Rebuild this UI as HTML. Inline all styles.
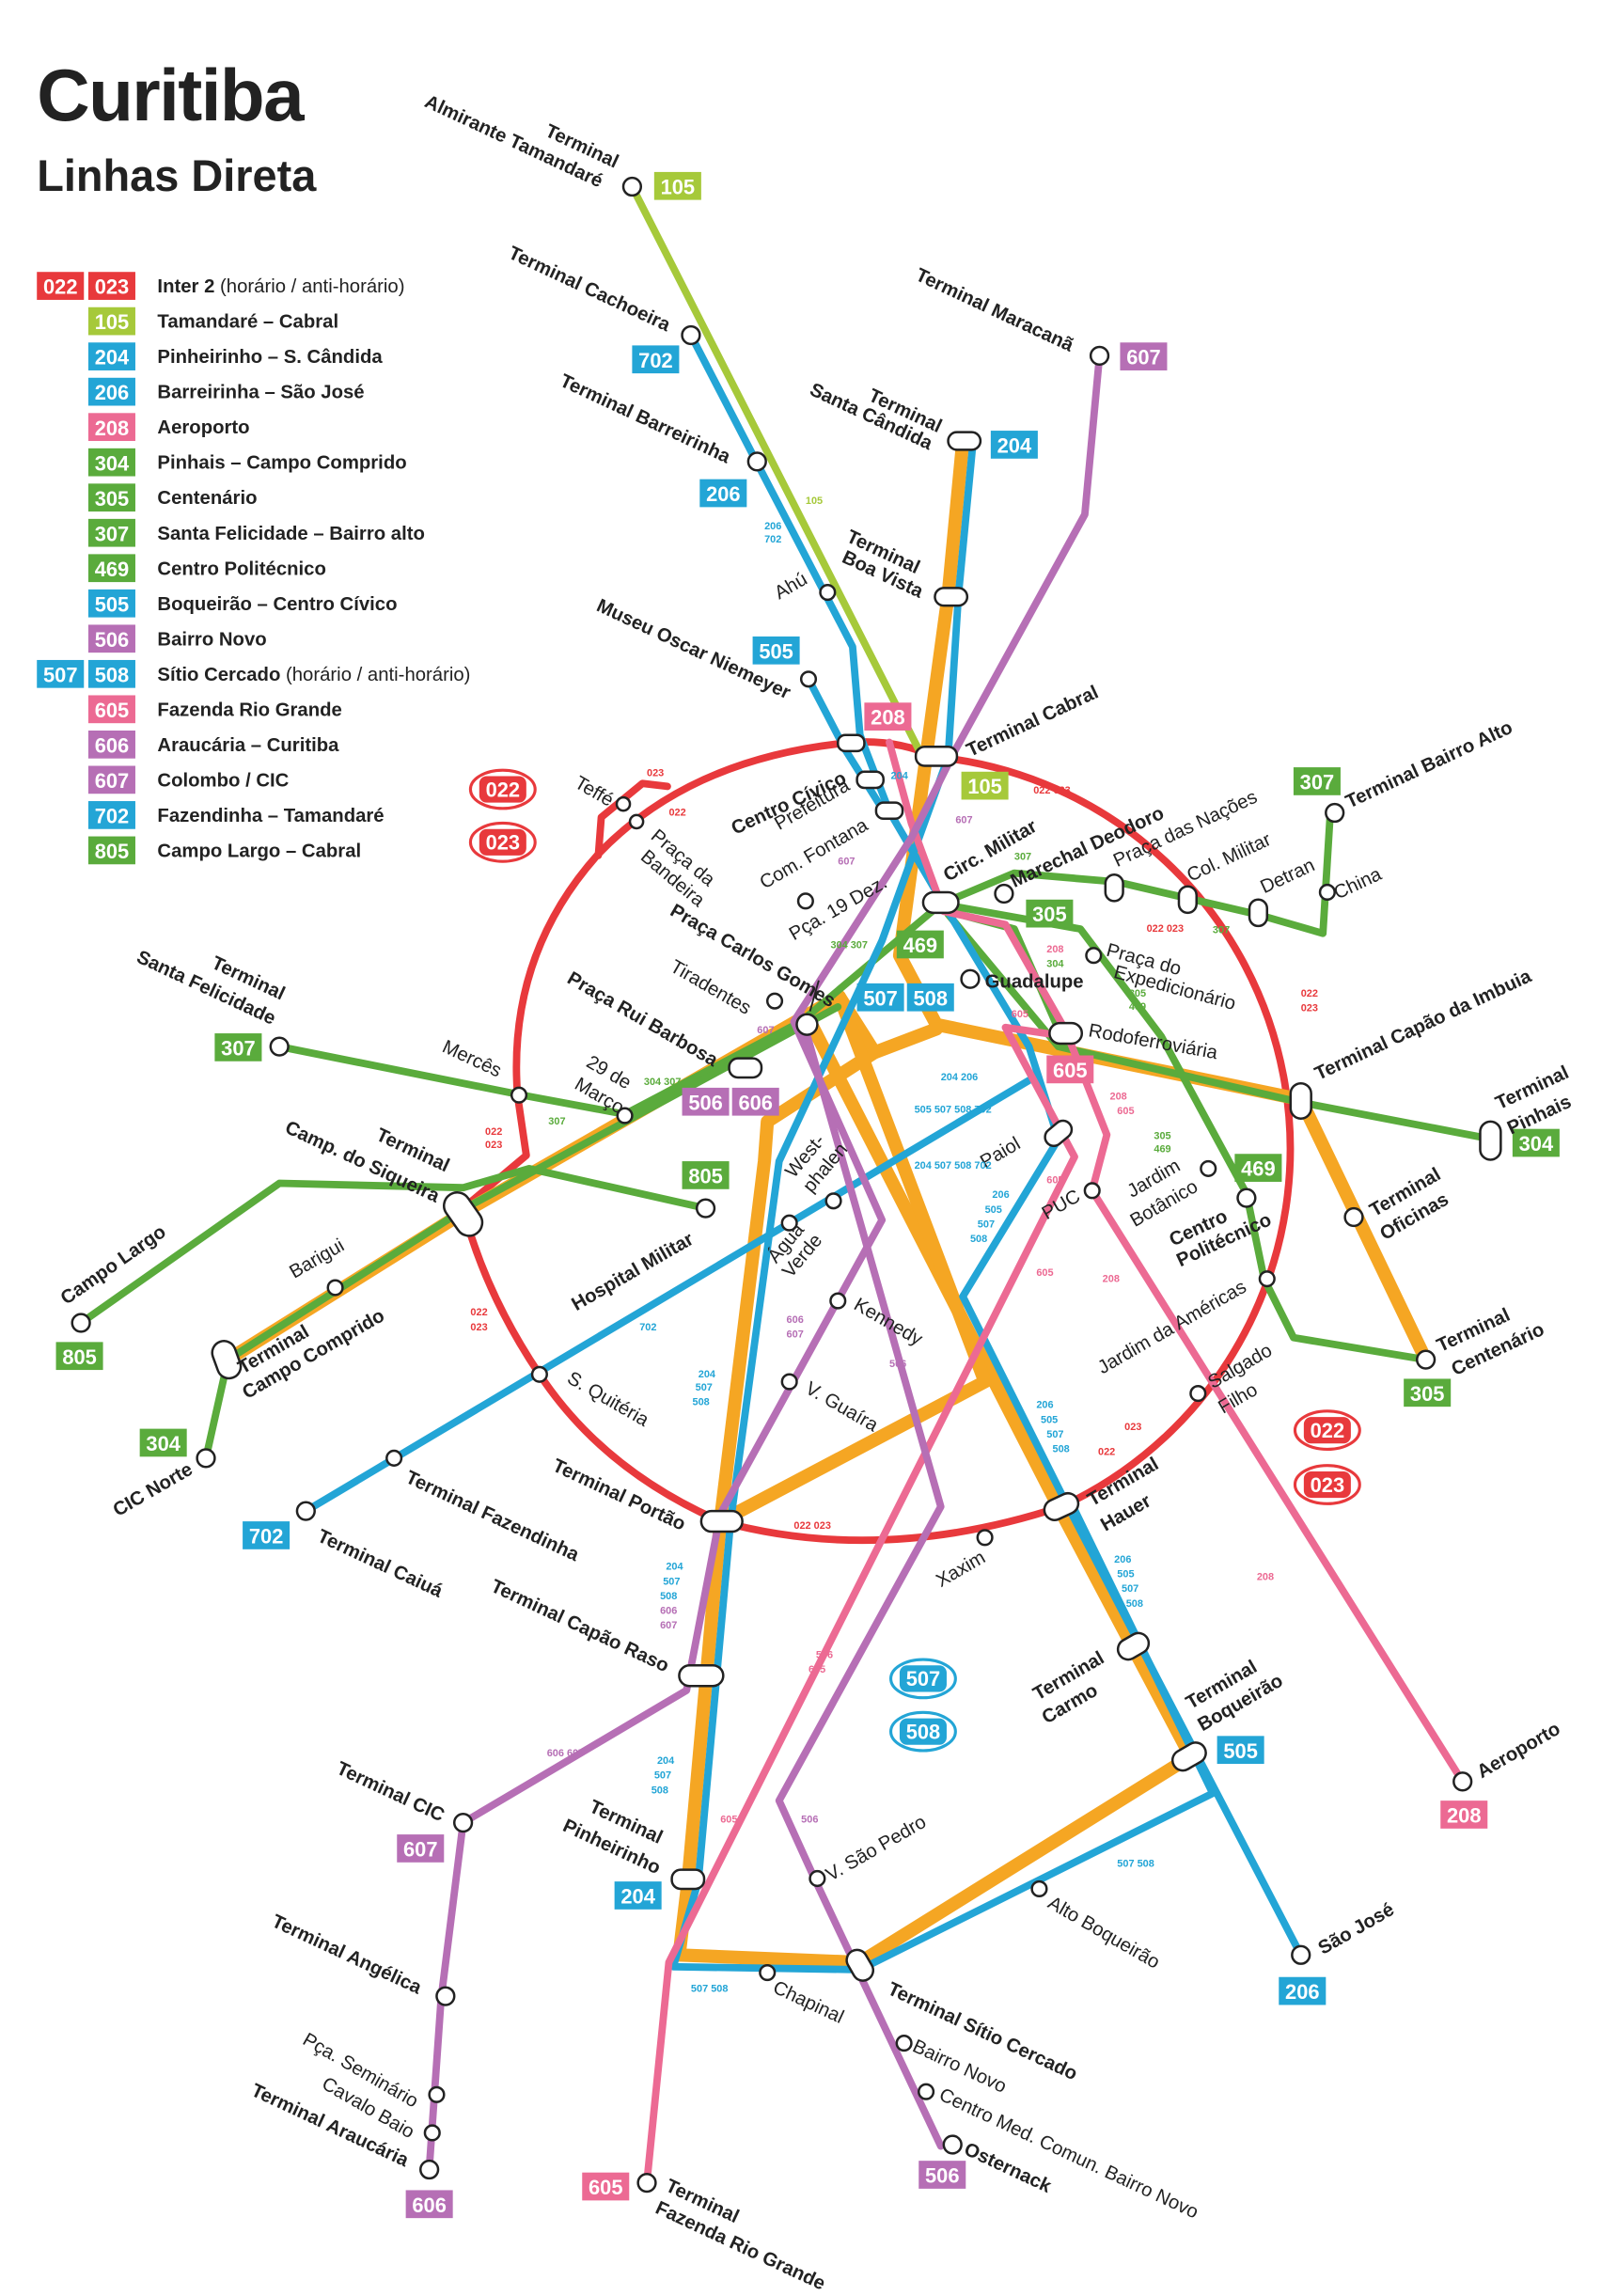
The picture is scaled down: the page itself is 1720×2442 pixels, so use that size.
<!DOCTYPE html>
<html><head><meta charset="utf-8">
<style>
html,body{margin:0;padding:0;background:#fff}
svg{display:block}
text{font-family:"Liberation Sans",sans-serif}
.b{font-weight:bold}
.st{fill:#fff;stroke:#222;stroke-width:1.6}
.ln{fill:none;stroke-linejoin:round;stroke-linecap:round}
.bt{fill:#fff;font-weight:bold;font-size:14px;text-anchor:middle}
.lg{font-size:13px;font-weight:bold;fill:#222}
.lb{font-size:13px;fill:#222}
.tb{font-size:13px;font-weight:bold;fill:#222}
.sm{font-size:7px;font-weight:bold}
</style></head><body>
<svg width="1720" height="2442" viewBox="0 0 1100 1562" xmlns="http://www.w3.org/2000/svg">
<rect width="1100" height="1562" fill="#fff"/>
<text x="25" y="82" font-size="50" class="b" fill="#222" letter-spacing="-1">Curitiba</text>
<text x="25" y="130" font-size="30" class="b" fill="#222">Linhas Direta</text>

<!-- legend -->
<g>
<rect x="25" y="185" width="32" height="19" fill="#e8393c"/><text x="41" y="200" class="bt">022</text>
<rect x="60" y="185" width="32" height="19" fill="#e8393c"/><text x="76" y="200" class="bt">023</text>
<text x="107" y="199" class="lg">Inter 2 <tspan font-weight="normal">(horário / anti-horário)</tspan></text>
<rect x="60" y="209" width="32" height="19" fill="#a6c93a"/><text x="76" y="224" class="bt">105</text><text x="107" y="223" class="lg">Tamandaré – Cabral</text>
<rect x="60" y="233" width="32" height="19" fill="#23a5d6"/><text x="76" y="248" class="bt">204</text><text x="107" y="247" class="lg">Pinheirinho – S. Cândida</text>
<rect x="60" y="257" width="32" height="19" fill="#23a5d6"/><text x="76" y="272" class="bt">206</text><text x="107" y="271" class="lg">Barreirinha – São José</text>
<rect x="60" y="281" width="32" height="19" fill="#ec6a93"/><text x="76" y="296" class="bt">208</text><text x="107" y="295" class="lg">Aeroporto</text>
<rect x="60" y="305" width="32" height="19" fill="#5aab3c"/><text x="76" y="320" class="bt">304</text><text x="107" y="319" class="lg">Pinhais – Campo Comprido</text>
<rect x="60" y="329" width="32" height="19" fill="#5aab3c"/><text x="76" y="344" class="bt">305</text><text x="107" y="343" class="lg">Centenário</text>
<rect x="60" y="353" width="32" height="19" fill="#5aab3c"/><text x="76" y="368" class="bt">307</text><text x="107" y="367" class="lg">Santa Felicidade – Bairro alto</text>
<rect x="60" y="377" width="32" height="19" fill="#5aab3c"/><text x="76" y="392" class="bt">469</text><text x="107" y="391" class="lg">Centro Politécnico</text>
<rect x="60" y="401" width="32" height="19" fill="#23a5d6"/><text x="76" y="416" class="bt">505</text><text x="107" y="415" class="lg">Boqueirão – Centro Cívico</text>
<rect x="60" y="425" width="32" height="19" fill="#b66fb5"/><text x="76" y="440" class="bt">506</text><text x="107" y="439" class="lg">Bairro Novo</text>
<rect x="25" y="449" width="32" height="19" fill="#23a5d6"/><text x="41" y="464" class="bt">507</text>
<rect x="60" y="449" width="32" height="19" fill="#23a5d6"/><text x="76" y="464" class="bt">508</text><text x="107" y="463" class="lg">Sítio Cercado <tspan font-weight="normal">(horário / anti-horário)</tspan></text>
<rect x="60" y="473" width="32" height="19" fill="#ec6a93"/><text x="76" y="488" class="bt">605</text><text x="107" y="487" class="lg">Fazenda Rio Grande</text>
<rect x="60" y="497" width="32" height="19" fill="#b66fb5"/><text x="76" y="512" class="bt">606</text><text x="107" y="511" class="lg">Araucária – Curitiba</text>
<rect x="60" y="521" width="32" height="19" fill="#b66fb5"/><text x="76" y="536" class="bt">607</text><text x="107" y="535" class="lg">Colombo / CIC</text>
<rect x="60" y="545" width="32" height="19" fill="#23a5d6"/><text x="76" y="560" class="bt">702</text><text x="107" y="559" class="lg">Fazendinha – Tamandaré</text>
<rect x="60" y="569" width="32" height="19" fill="#5aab3c"/><text x="76" y="584" class="bt">805</text><text x="107" y="583" class="lg">Campo Largo – Cabral</text>
</g>

<!-- red ring -->
<path class="ln" stroke="#e8393c" stroke-width="5" d="M637,515 A268,268 0 0 1 722,1025 Q600,1065 490,1035 Q410,1000 367,935 Q330,880 315,822 L358,786 L352,745 Q345,650 407,581 Q470,515 580,505 Q610,503 637,515 Z"/>
<path class="ln" d="M407,582 L409,556 L437,533 L454,535" stroke="#e8393c" stroke-width="5"/>

<!-- orange trunks -->
<g class="ln" stroke="#f5a623" stroke-width="9">
<path d="M655,300 L645,405 L630,515 L612,650 L637,697 L885,748 L970,925"/>
<path d="M155,925 L315,825 L571,678 L595,716 L637,700"/>
<path d="M595,716 L522,763 L520,790 L490,1035 L468,1280 L462,1330 L585,1335 L810,1195 L720,1025 L550,693"/>
<path d="M490,1035 L670,940 L571,678"/>
</g>

<!-- green -->
<g class="ln" stroke="#5aab3c" stroke-width="5">
<path d="M190,712 L355,745 L425,758 L545,695 L640,615 L690,594 L760,600 L855,622 L900,635 L905,553"/>
<path d="M140,992 L155,925 L320,820 L570,685"/>
<path d="M1015,775 L885,750 L720,712 L645,622"/>
<path d="M55,900 L190,805 L315,808 L360,795 L480,822"/>
<path d="M640,615 L735,632 L790,705 L848,812 L860,870 L880,910 L970,925"/>
<path d="M645,620 L690,632 L720,700"/>
</g>

<!-- lime -->
<path class="ln" d="M430,127 L625,510 L640,515" stroke="#a6c93a" stroke-width="5"/>

<!-- blue -->
<g class="ln" stroke="#23a5d6" stroke-width="5">
<path d="M470,228 L515,315 L580,440 L585,500 L605,552 L640,612 L700,712 L720,775 L655,882 L725,1022 L885,1330"/>
<path d="M700,735 L208,1028"/>
<path d="M662,300 L652,405 L645,515 L600,640 L530,790 L497,1035 L475,1280 L458,1338 L585,1340 L825,1220 L730,1025"/>
<path d="M550,462 L575,510 L600,550"/>
</g>

<!-- pink -->
<g class="ln" stroke="#ec6a93" stroke-width="5">
<path d="M605,505 L620,560 L642,620 L684,629 L701,659 L725,701 L753,772 L743,810 L995,1212"/>
<path d="M684,699 L725,705 M684,699 L731,787 L455,1335 L440,1485"/>
</g>

<!-- purple -->
<g class="ln" stroke="#b66fb5" stroke-width="5">
<path d="M748,242 L738,350 L650,510 L620,570 L540,695 L600,830 L490,1030 L467,1150 L315,1240 L300,1360 L292,1475"/>
<path d="M545,690 L640,1025 L530,1225 L555,1280 L640,1460"/>
</g>

<!-- stations -->
<g class="st">
<circle cx="430" cy="127" r="6"/><circle cx="470" cy="228" r="6"/><circle cx="515" cy="314" r="6"/>
<circle cx="748" cy="242" r="6"/><circle cx="563" cy="403" r="5"/><circle cx="550" cy="462" r="5"/>
<rect x="645" y="294" width="22" height="12" rx="6"/><rect x="636" y="400" width="22" height="12" rx="6"/>
<rect x="623" y="508" width="28" height="13" rx="6"/><rect x="570" y="500" width="18" height="11" rx="5"/>
<rect x="583" y="525" width="18" height="11" rx="5"/><rect x="596" y="546" width="18" height="11" rx="5"/>
<rect x="628" y="607" width="24" height="14" rx="7"/>
<circle cx="424" cy="547" r="4.5"/><circle cx="433" cy="559" r="4.5"/><circle cx="548" cy="613" r="5"/>
<circle cx="683" cy="608" r="6"/><rect x="752" y="595" width="12" height="18" rx="6"/><rect x="802" y="603" width="12" height="18" rx="6"/>
<rect x="850" y="612" width="12" height="18" rx="6"/><circle cx="903" cy="607" r="5"/><circle cx="908" cy="553" r="6"/>
<circle cx="744" cy="650" r="5"/><circle cx="660" cy="666" r="6"/><circle cx="527" cy="681" r="5"/>
<circle cx="549" cy="697" r="7"/><rect x="496" y="720" width="22" height="13" rx="6"/>
<rect x="714" y="696" width="22" height="14" rx="7"/><rect x="878" y="737" width="14" height="24" rx="7"/>
<rect x="1007" y="763" width="14" height="26" rx="7"/><circle cx="921" cy="828" r="6"/>
<circle cx="190" cy="712" r="6"/><circle cx="353" cy="745" r="5"/><circle cx="425" cy="759" r="5"/>
<rect x="306" y="810" width="18" height="32" rx="9" transform="rotate(-35 315 826)"/>
<circle cx="480" cy="822" r="6"/><circle cx="228" cy="876" r="5"/><circle cx="55" cy="900" r="6"/>
<rect x="146" y="912" width="16" height="26" rx="8" transform="rotate(-20 154 925)"/>
<circle cx="140" cy="992" r="6"/><circle cx="367" cy="935" r="5"/><circle cx="268" cy="992" r="5"/>
<circle cx="208" cy="1028" r="6"/><rect x="710" y="765" width="20" height="12" rx="6" transform="rotate(-40 720 771)"/>
<circle cx="567" cy="817" r="5"/><circle cx="537" cy="832" r="5"/><circle cx="743" cy="810" r="5"/>
<circle cx="822" cy="795" r="5"/><circle cx="848" cy="815" r="6"/><circle cx="862" cy="870" r="5"/>
<circle cx="570" cy="885" r="5"/><circle cx="537" cy="940" r="5"/><circle cx="815" cy="948" r="5"/>
<rect x="477" y="1028" width="28" height="14" rx="7"/><rect x="710" y="1018" width="24" height="14" rx="7" transform="rotate(-25 722 1025)"/>
<circle cx="670" cy="1046" r="5"/><circle cx="970" cy="925" r="6"/>
<rect x="462" y="1133" width="30" height="14" rx="7"/><rect x="760" y="1113" width="22" height="14" rx="7" transform="rotate(-30 771 1120)"/>
<rect x="797" y="1188" width="24" height="14" rx="7" transform="rotate(-30 809 1195)"/>
<circle cx="995" cy="1212" r="6"/><circle cx="315" cy="1240" r="6"/><circle cx="556" cy="1278" r="5"/>
<rect x="457" y="1272" width="22" height="13" rx="6"/><circle cx="707" cy="1285" r="5"/>
<circle cx="885" cy="1330" r="6"/><circle cx="522" cy="1342" r="5"/>
<rect x="578" y="1326" width="14" height="22" rx="7" transform="rotate(-30 585 1337)"/>
<circle cx="303" cy="1358" r="6"/><circle cx="297" cy="1425" r="5"/><circle cx="294" cy="1451" r="5"/>
<circle cx="292" cy="1476" r="6"/><circle cx="615" cy="1390" r="5"/><circle cx="630" cy="1423" r="5"/>
<circle cx="648" cy="1459" r="6"/><circle cx="440" cy="1485" r="6"/>
</g>
<path d="M557,667 L551,688" stroke="#222" stroke-width="1.2" fill="none"/>

<!-- badges -->
<g>
<rect x="445" y="117" width="32" height="19" fill="#a6c93a"/><text x="461" y="132" class="bt">105</text>
<rect x="430" y="235" width="32" height="19" fill="#23a5d6"/><text x="446" y="250" class="bt">702</text>
<rect x="762" y="233" width="32" height="19" fill="#b66fb5"/><text x="778" y="248" class="bt">607</text>
<rect x="674" y="293" width="32" height="19" fill="#23a5d6"/><text x="690" y="308" class="bt">204</text>
<rect x="476" y="326" width="32" height="19" fill="#23a5d6"/><text x="492" y="341" class="bt">206</text>
<rect x="512" y="433" width="32" height="19" fill="#23a5d6"/><text x="528" y="448" class="bt">505</text>
<rect x="588" y="478" width="32" height="19" fill="#ec6a93"/><text x="604" y="493" class="bt">208</text>
<rect x="654" y="525" width="32" height="19" fill="#a6c93a"/><text x="670" y="540" class="bt">105</text>
<rect x="880" y="522" width="32" height="19" fill="#5aab3c"/><text x="896" y="537" class="bt">307</text>
<rect x="698" y="612" width="32" height="19" fill="#5aab3c"/><text x="714" y="627" class="bt">305</text>
<rect x="610" y="633" width="32" height="19" fill="#5aab3c"/><text x="626" y="648" class="bt">469</text>
<rect x="583" y="669" width="32" height="19" fill="#23a5d6"/><text x="599" y="684" class="bt">507</text>
<rect x="617" y="669" width="32" height="19" fill="#23a5d6"/><text x="633" y="684" class="bt">508</text>
<rect x="712" y="718" width="32" height="19" fill="#ec6a93"/><text x="728" y="733" class="bt">605</text>
<rect x="464" y="740" width="32" height="19" fill="#b66fb5"/><text x="480" y="755" class="bt">506</text>
<rect x="498" y="740" width="32" height="19" fill="#b66fb5"/><text x="514" y="755" class="bt">606</text>
<rect x="146" y="703" width="32" height="19" fill="#5aab3c"/><text x="162" y="718" class="bt">307</text>
<rect x="1029" y="768" width="32" height="19" fill="#5aab3c"/><text x="1045" y="783" class="bt">304</text>
<rect x="464" y="790" width="32" height="19" fill="#5aab3c"/><text x="480" y="805" class="bt">805</text>
<rect x="840" y="785" width="32" height="19" fill="#5aab3c"/><text x="856" y="800" class="bt">469</text>
<rect x="38" y="913" width="32" height="19" fill="#5aab3c"/><text x="54" y="928" class="bt">805</text>
<rect x="95" y="972" width="32" height="19" fill="#5aab3c"/><text x="111" y="987" class="bt">304</text>
<rect x="955" y="938" width="32" height="19" fill="#5aab3c"/><text x="971" y="953" class="bt">305</text>
<rect x="165" y="1035" width="32" height="19" fill="#23a5d6"/><text x="181" y="1050" class="bt">702</text>
<rect x="828" y="1181" width="32" height="19" fill="#23a5d6"/><text x="844" y="1196" class="bt">505</text>
<rect x="980" y="1225" width="32" height="19" fill="#ec6a93"/><text x="996" y="1240" class="bt">208</text>
<rect x="270" y="1248" width="32" height="19" fill="#b66fb5"/><text x="286" y="1263" class="bt">607</text>
<rect x="418" y="1280" width="32" height="19" fill="#23a5d6"/><text x="434" y="1295" class="bt">204</text>
<rect x="870" y="1345" width="32" height="19" fill="#23a5d6"/><text x="886" y="1360" class="bt">206</text>
<rect x="625" y="1470" width="32" height="19" fill="#b66fb5"/><text x="641" y="1485" class="bt">506</text>
<rect x="396" y="1478" width="32" height="19" fill="#ec6a93"/><text x="412" y="1493" class="bt">605</text>
<rect x="276" y="1490" width="32" height="19" fill="#b66fb5"/><text x="292" y="1505" class="bt">606</text>
</g>

<!-- circular direction badges -->
<g fill="none" stroke-width="2">
<ellipse cx="342" cy="537" rx="22" ry="13" stroke="#e8393c"/><ellipse cx="342" cy="573" rx="22" ry="13" stroke="#e8393c"/>
<ellipse cx="903" cy="973" rx="22" ry="13" stroke="#e8393c"/><ellipse cx="903" cy="1010" rx="22" ry="13" stroke="#e8393c"/>
<ellipse cx="628" cy="1142" rx="22" ry="13" stroke="#23a5d6"/><ellipse cx="628" cy="1178" rx="22" ry="13" stroke="#23a5d6"/>
</g>
<g>
<rect x="326" y="528" width="32" height="18" rx="5" fill="#e8393c"/><text x="342" y="542" class="bt">022</text>
<rect x="326" y="564" width="32" height="18" rx="5" fill="#e8393c"/><text x="342" y="578" class="bt">023</text>
<rect x="887" y="964" width="32" height="18" rx="5" fill="#e8393c"/><text x="903" y="978" class="bt">022</text>
<rect x="887" y="1001" width="32" height="18" rx="5" fill="#e8393c"/><text x="903" y="1015" class="bt">023</text>
<rect x="612" y="1133" width="32" height="18" rx="5" fill="#23a5d6"/><text x="628" y="1147" class="bt">507</text>
<rect x="612" y="1169" width="32" height="18" rx="5" fill="#23a5d6"/><text x="628" y="1183" class="bt">508</text>
</g>

<!-- station labels -->
<g class="tb">
<text transform="translate(288,72) rotate(25)">Almirante Tamandaré</text>
<text transform="translate(370,92) rotate(25)">Terminal</text>
<text transform="translate(345,175) rotate(25)">Terminal Cachoeira</text>
<text transform="translate(622,190) rotate(25)">Terminal Maracanã</text>
<text transform="translate(550,268) rotate(25)">Santa Cândida</text>
<text transform="translate(590,272) rotate(25)">Terminal</text>
<text transform="translate(380,262) rotate(25)">Terminal Barreirinha</text>
<text transform="translate(575,368) rotate(25)">Terminal</text>
<text transform="translate(572,382) rotate(25)">Boa Vista</text>
<text transform="translate(405,415) rotate(25)">Museu Oscar Niemeyer</text>
<text transform="translate(660,515) rotate(-25)">Terminal Cabral</text>
<text transform="translate(500,568) rotate(-25)">Centro Cívico</text>
<text transform="translate(645,600) rotate(-30)">Circ. Militar</text>
<text transform="translate(690,604) rotate(-25)">Marechal Deodoro</text>
<text transform="translate(918,550) rotate(-25)">Terminal Bairro Alto</text>
<text transform="translate(455,622) rotate(30)">Praça Carlos Gomes</text>
<text transform="translate(670,672)">Guadalupe</text>
<text transform="translate(385,668) rotate(30)">Praça Rui Barbosa</text>
<text transform="translate(92,654) rotate(25)">Santa Felicidade</text>
<text transform="translate(143,658) rotate(25)">Terminal</text>
<text transform="translate(897,735) rotate(-25)">Terminal Capão da Imbuia</text>
<text transform="translate(1020,755) rotate(-25)">Terminal</text>
<text transform="translate(1028,772) rotate(-25)">Pinhais</text>
<text transform="translate(193,770) rotate(25)">Camp. do Siqueira</text>
<text transform="translate(255,775) rotate(25)">Terminal</text>
<text transform="translate(392,892) rotate(-30)">Hospital Militar</text>
<text transform="translate(45,888) rotate(-35)">Campo Largo</text>
<text transform="translate(935,828) rotate(-30)">Terminal</text>
<text transform="translate(942,844) rotate(-30)">Oficinas</text>
<text transform="translate(798,848) rotate(-25)">Centro</text>
<text transform="translate(803,862) rotate(-25)">Politécnico</text>
<text transform="translate(165,935) rotate(-30)">Terminal</text>
<text transform="translate(168,952) rotate(-30)">Campo Comprido</text>
<text transform="translate(80,1032) rotate(-30)">CIC Norte</text>
<text transform="translate(980,920) rotate(-25)">Terminal</text>
<text transform="translate(990,936) rotate(-25)">Centenário</text>
<text transform="translate(375,1000) rotate(25)">Terminal Portão</text>
<text transform="translate(743,1025) rotate(-30)">Terminal</text>
<text transform="translate(752,1042) rotate(-30)">Hauer</text>
<text transform="translate(275,1008) rotate(25)">Terminal Fazendinha</text>
<text transform="translate(215,1048) rotate(25)">Terminal Caiuá</text>
<text transform="translate(333,1082) rotate(25)">Terminal Capão Raso</text>
<text transform="translate(706,1157) rotate(-30)">Terminal</text>
<text transform="translate(712,1173) rotate(-30)">Carmo</text>
<text transform="translate(810,1163) rotate(-30)">Terminal</text>
<text transform="translate(818,1178) rotate(-30)">Boqueirão</text>
<text transform="translate(1008,1210) rotate(-30)">Aeroporto</text>
<text transform="translate(228,1206) rotate(25)">Terminal CIC</text>
<text transform="translate(400,1232) rotate(25)">Terminal</text>
<text transform="translate(382,1245) rotate(25)">Pinheirinho</text>
<text transform="translate(900,1330) rotate(-30)">São José</text>
<text transform="translate(184,1310) rotate(25)">Terminal Angélica</text>
<text transform="translate(603,1356) rotate(25)">Terminal Sítio Cercado</text>
<text transform="translate(170,1425) rotate(25)">Terminal Araucária</text>
<text transform="translate(655,1465) rotate(25)">Osternack</text>
<text transform="translate(452,1490) rotate(25)">Terminal</text>
<text transform="translate(445,1505) rotate(25)">Fazenda Rio Grande</text>
</g>
<g class="lb">
<text transform="translate(530,408) rotate(-30)">Ahú</text>
<text transform="translate(390,535) rotate(30)">Teffé</text>
<text transform="translate(442,570) rotate(40)">Praça da</text>
<text transform="translate(435,584) rotate(40)">Bandeira</text>
<text transform="translate(530,565) rotate(-30)">Prefeitura</text>
<text transform="translate(520,605) rotate(-30)">Com. Fontana</text>
<text transform="translate(540,640) rotate(-30)">Pça. 19 Dez.</text>
<text transform="translate(760,590) rotate(-25)">Praça das Nações</text>
<text transform="translate(810,600) rotate(-25)">Col. Militar</text>
<text transform="translate(860,608) rotate(-25)">Detran</text>
<text transform="translate(910,612) rotate(-25)">China</text>
<text transform="translate(752,650) rotate(15)">Praça do</text>
<text transform="translate(757,665) rotate(15)">Expedicionário</text>
<text transform="translate(455,660) rotate(30)">Tiradentes</text>
<text transform="translate(740,705) rotate(10)">Rodoferroviária</text>
<text transform="translate(300,715) rotate(25)">Mercês</text>
<text transform="translate(398,725) rotate(30)">29 de</text>
<text transform="translate(390,740) rotate(30)">Março</text>
<text transform="translate(540,802) rotate(-50)">West-</text>
<text transform="translate(552,812) rotate(-50)">phalen</text>
<text transform="translate(670,795) rotate(-30)">Paiol</text>
<text transform="translate(712,830) rotate(-30)">PUC</text>
<text transform="translate(770,815) rotate(-30)">Jardim</text>
<text transform="translate(772,835) rotate(-30)">Botânico</text>
<text transform="translate(200,870) rotate(-30)">Barigui</text>
<text transform="translate(528,860) rotate(-50)">Água</text>
<text transform="translate(538,870) rotate(-50)">Verde</text>
<text transform="translate(580,890) rotate(30)">Kennedy</text>
<text transform="translate(750,935) rotate(-30)">Jardim da Américas</text>
<text transform="translate(385,940) rotate(30)">S. Quitéria</text>
<text transform="translate(547,947) rotate(30)">V. Guaíra</text>
<text transform="translate(825,945) rotate(-30)">Salgado</text>
<text transform="translate(832,962) rotate(-30)">Filho</text>
<text transform="translate(640,1080) rotate(-30)">Xaxim</text>
<text transform="translate(565,1280) rotate(-30)">V. São Pedro</text>
<text transform="translate(712,1297) rotate(30)">Alto Boqueirão</text>
<text transform="translate(525,1355) rotate(25)">Chapinal</text>
<text transform="translate(620,1395) rotate(25)">Bairro Novo</text>
<text transform="translate(638,1428) rotate(25)">Centro Med. Comun. Bairro Novo</text>
<text transform="translate(205,1390) rotate(30)">Pça. Seminário</text>
<text transform="translate(218,1420) rotate(30)">Cavalo Baio</text>
</g>

<!-- small route numbers -->
<g class="sm">
<text x="520" y="360" fill="#23a5d6">206</text><text x="520" y="369" fill="#23a5d6">702</text>
<text x="548" y="343" fill="#a6c93a">105</text>
<text x="606" y="530" fill="#23a5d6">204</text>
<text x="570" y="588" fill="#b66fb5">607</text>
<text x="650" y="560" fill="#b66fb5">607</text>
<text x="703" y="540" fill="#e8393c">022 023</text>
<text x="440" y="528" fill="#e8393c">023</text><text x="455" y="555" fill="#e8393c">022</text>
<text x="565" y="645" fill="#5aab3c">304 307</text>
<text x="690" y="585" fill="#5aab3c">307</text>
<text x="780" y="634" fill="#e8393c">022 023</text><text x="825" y="635" fill="#5aab3c">307</text>
<text x="712" y="648" fill="#ec6a93">208</text><text x="712" y="658" fill="#5aab3c">304</text>
<text x="768" y="678" fill="#5aab3c">305</text><text x="768" y="687" fill="#5aab3c">469</text>
<text x="885" y="678" fill="#e8393c">022</text><text x="885" y="688" fill="#e8393c">023</text>
<text x="688" y="692" fill="#ec6a93">605</text>
<text x="515" y="703" fill="#b66fb5">607</text>
<text x="438" y="738" fill="#5aab3c">304 307</text>
<text x="373" y="765" fill="#5aab3c">307</text>
<text x="330" y="772" fill="#e8393c">022</text><text x="330" y="781" fill="#e8393c">023</text>
<text x="640" y="735" fill="#23a5d6">204 206</text><text x="622" y="757" fill="#23a5d6">505 507 508 702</text>
<text x="755" y="748" fill="#ec6a93">208</text><text x="760" y="758" fill="#ec6a93">605</text>
<text x="785" y="775" fill="#5aab3c">305</text><text x="785" y="784" fill="#5aab3c">469</text>
<text x="622" y="795" fill="#23a5d6">204 507 508 702</text>
<text x="675" y="815" fill="#23a5d6">206</text><text x="670" y="825" fill="#23a5d6">505</text><text x="665" y="835" fill="#23a5d6">507</text><text x="660" y="845" fill="#23a5d6">508</text>
<text x="712" y="805" fill="#ec6a93">605</text>
<text x="320" y="895" fill="#e8393c">022</text><text x="320" y="905" fill="#e8393c">023</text>
<text x="435" y="905" fill="#23a5d6">702</text>
<text x="705" y="868" fill="#ec6a93">605</text><text x="750" y="872" fill="#ec6a93">208</text>
<text x="535" y="900" fill="#b66fb5">606</text><text x="535" y="910" fill="#b66fb5">607</text>
<text x="605" y="930" fill="#b66fb5">506</text>
<text x="475" y="937" fill="#23a5d6">204</text><text x="473" y="946" fill="#23a5d6">507</text><text x="471" y="956" fill="#23a5d6">508</text>
<text x="705" y="958" fill="#23a5d6">206</text><text x="708" y="968" fill="#23a5d6">505</text><text x="712" y="978" fill="#23a5d6">507</text><text x="716" y="988" fill="#23a5d6">508</text>
<text x="747" y="990" fill="#e8393c">022</text><text x="765" y="973" fill="#e8393c">023</text>
<text x="540" y="1040" fill="#e8393c">022 023</text>
<text x="453" y="1068" fill="#23a5d6">204</text><text x="451" y="1078" fill="#23a5d6">507</text><text x="449" y="1088" fill="#23a5d6">508</text><text x="449" y="1098" fill="#b66fb5">606</text><text x="449" y="1108" fill="#b66fb5">607</text>
<text x="758" y="1063" fill="#23a5d6">206</text><text x="760" y="1073" fill="#23a5d6">505</text><text x="763" y="1083" fill="#23a5d6">507</text><text x="766" y="1093" fill="#23a5d6">508</text>
<text x="855" y="1075" fill="#ec6a93">208</text>
<text x="555" y="1128" fill="#ec6a93">506</text><text x="550" y="1138" fill="#ec6a93">605</text>
<text x="372" y="1195" fill="#b66fb5">606 607</text>
<text x="447" y="1200" fill="#23a5d6">204</text><text x="445" y="1210" fill="#23a5d6">507</text><text x="443" y="1220" fill="#23a5d6">508</text>
<text x="490" y="1240" fill="#ec6a93">605</text><text x="545" y="1240" fill="#b66fb5">506</text>
<text x="760" y="1270" fill="#23a5d6">507  508</text>
<text x="470" y="1355" fill="#23a5d6">507  508</text>
</g>
</svg>
</body></html>
